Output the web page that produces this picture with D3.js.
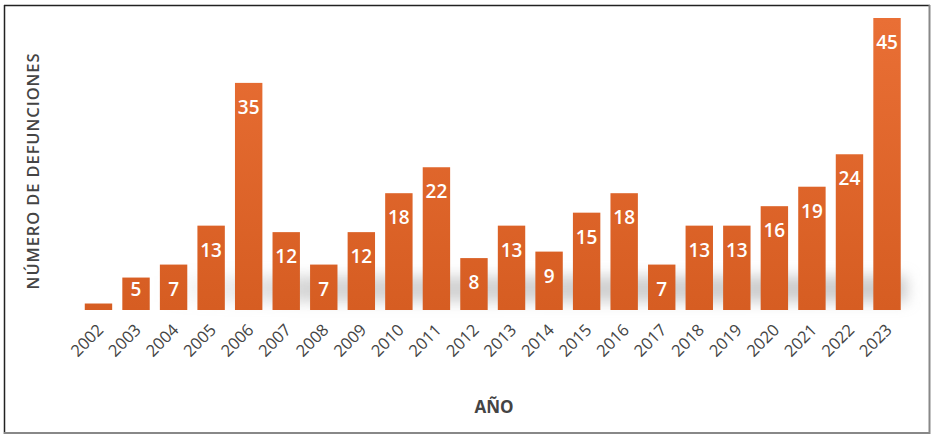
<!DOCTYPE html>
<html>
<head>
<meta charset="utf-8">
<script src="https://cdn.jsdelivr.net/npm/d3@7"></script>
<style>
  html, body { margin: 0; padding: 0; background: #fff; }
  svg { display: block; font-family: "Open Sans", "Noto Sans", sans-serif; }
</style>
</head>
<body>
<svg id="chart" width="936" height="440"></svg>
<script>
const years = ["2002","2003","2004","2005","2006","2007","2008","2009","2010","2011","2012","2013","2014","2015","2016","2017","2018","2019","2020","2021","2022","2023"];
const deaths = [1,5,7,13,35,12,7,12,18,22,8,13,9,15,18,7,13,13,16,19,24,45];
const showLabel = [false,true,true,true,true,true,true,true,true,true,true,true,true,true,true,true,true,true,true,true,true,true];
const xTitle = "AÑO";
const yTitle = "NÚMERO DE DEFUNCIONES";

const svg = d3.select("#chart");
const data = years.map((y, i) => ({ year: y, value: deaths[i], label: showLabel[i] }));

const baseY = 310;
const x = d3.scaleBand().domain(years).range([79.7, 905.8]).paddingInner(0.27).paddingOuter(0.135);
const y = d3.scaleLinear().domain([0, 45]).range([baseY, 18]);

const defs = svg.append("defs");
const grad = defs.append("linearGradient").attr("id", "barGrad")
  .attr("gradientUnits", "userSpaceOnUse").attr("x1", 0).attr("x2", 0).attr("y1", 18).attr("y2", baseY);
grad.append("stop").attr("offset", "0%").attr("stop-color", "#e96f35");
grad.append("stop").attr("offset", "100%").attr("stop-color", "#d65d22");

const blur = defs.append("filter").attr("id", "shadowBlur").attr("x", "-20%").attr("y", "-80%").attr("width", "140%").attr("height", "260%");
blur.append("feGaussianBlur").attr("stdDeviation", 7);

const sGrad = defs.append("linearGradient").attr("id", "shadowGrad").attr("x1", 0).attr("x2", 1).attr("y1", 0).attr("y2", 0);
sGrad.append("stop").attr("offset", "0%").attr("stop-color", "#aaa").attr("stop-opacity", 0);
sGrad.append("stop").attr("offset", "20%").attr("stop-color", "#aaa").attr("stop-opacity", 0.5);
sGrad.append("stop").attr("offset", "100%").attr("stop-color", "#aaa").attr("stop-opacity", 0.6);

// frame
svg.append("line").attr("x1", 4.5).attr("x2", 4.5).attr("y1", 5).attr("y2", 434).attr("stroke", "#222").attr("stroke-width", 1.5);
svg.append("line").attr("x1", 4).attr("x2", 930).attr("y1", 5.5).attr("y2", 5.5).attr("stroke", "#222").attr("stroke-width", 1.5);
svg.append("line").attr("x1", 929.5).attr("x2", 929.5).attr("y1", 5).attr("y2", 434).attr("stroke", "#888").attr("stroke-width", 2);
svg.append("line").attr("x1", 4).attr("x2", 930).attr("y1", 433).attr("y2", 433).attr("stroke", "#888").attr("stroke-width", 2);

// floor shadow
svg.append("rect").attr("x", x("2004")).attr("y", baseY - 34).attr("width", x("2023") + x.bandwidth() + 6 - x("2004")).attr("height", 26)
  .attr("fill", "url(#shadowGrad)").attr("filter", "url(#shadowBlur)");

// bars
svg.append("g").selectAll("rect").data(data).join("rect")
  .attr("x", d => x(d.year))
  .attr("y", d => y(d.value))
  .attr("width", x.bandwidth())
  .attr("height", d => baseY - y(d.value))
  .attr("fill", "url(#barGrad)");

// value labels
svg.append("g").selectAll("text").data(data.filter(d => d.label)).join("text")
  .attr("x", d => x(d.year) + x.bandwidth() / 2)
  .attr("y", d => Math.min(y(d.value) + 31, 296))
  .attr("text-anchor", "middle")
  .attr("fill", "#fff")
  .attr("font-size", 19)
  .attr("font-weight", 600)
  .text(d => d.value);

// x axis tick labels
const xAxis = d3.axisBottom(x).tickSize(0).tickPadding(0);
const gx = svg.append("g").attr("transform", `translate(0,${baseY})`).call(xAxis);
gx.select(".domain").remove();
gx.selectAll("text")
  .attr("font-family", "\"Open Sans\", sans-serif")
  .attr("font-size", 16.5)
  .attr("fill", "#444")
  .attr("text-anchor", "end")
  .attr("dy", null)
  .attr("y", 0)
  .attr("transform", "translate(6,21) rotate(-45)");

// axis titles
svg.append("text").attr("x", 494).attr("y", 413).attr("text-anchor", "middle")
  .attr("font-size", 17).attr("font-weight", 700).attr("fill", "#444").text(xTitle);
svg.append("text").attr("transform", "translate(39,171) rotate(-90)").attr("text-anchor", "middle")
  .attr("font-size", 16.5).attr("font-weight", 600).attr("fill", "#444").attr("letter-spacing", 0.9).text(yTitle);
</script>
</body>
</html>
